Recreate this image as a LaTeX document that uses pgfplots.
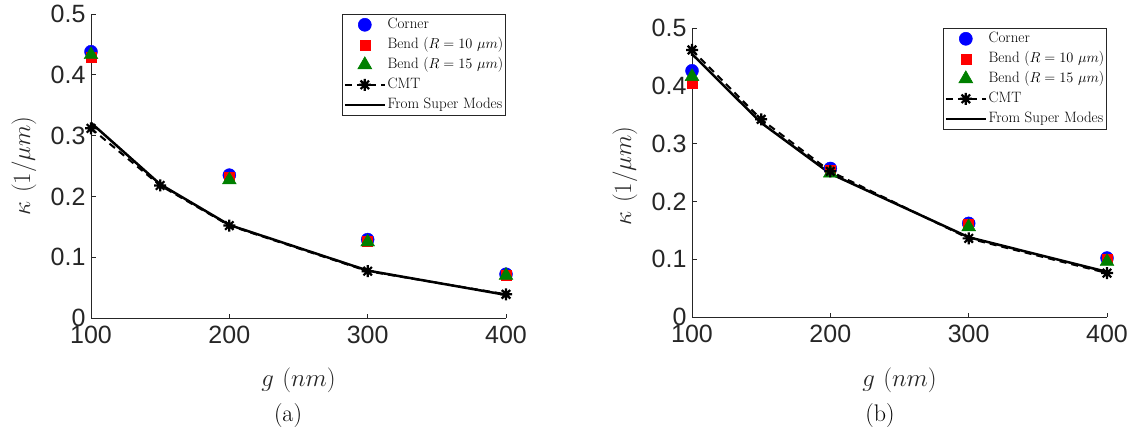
\documentclass[border=0pt]{standalone}
\usepackage{fontspec}
\usepackage{pgfplots}
\pgfplotsset{compat=1.18}
\newfontfamily\ticksans{Liberation Sans}
\definecolor{axgray}{HTML}{262626}
\definecolor{mgreen}{rgb}{0,0.5,0}

% eight-armed asterisk, like the '*' marker of the CMT curve
\pgfdeclareplotmark{ast8}{%
  \pgfpathmoveto{\pgfqpoint{-\pgfplotmarksize}{0pt}}%
  \pgfpathlineto{\pgfqpoint{\pgfplotmarksize}{0pt}}%
  \pgfpathmoveto{\pgfqpoint{0pt}{-\pgfplotmarksize}}%
  \pgfpathlineto{\pgfqpoint{0pt}{\pgfplotmarksize}}%
  \pgfpathmoveto{\pgfqpoint{-0.7071\pgfplotmarksize}{-0.7071\pgfplotmarksize}}%
  \pgfpathlineto{\pgfqpoint{0.7071\pgfplotmarksize}{0.7071\pgfplotmarksize}}%
  \pgfpathmoveto{\pgfqpoint{-0.7071\pgfplotmarksize}{0.7071\pgfplotmarksize}}%
  \pgfpathlineto{\pgfqpoint{0.7071\pgfplotmarksize}{-0.7071\pgfplotmarksize}}%
  \pgfusepathqstroke}

% legend sample: 40pt wide, mark in the middle
\pgfplotsset{
  limg/.style={legend image code/.code={\draw[mark repeat=2,mark phase=2,##1]
      plot coordinates {(0pt,0pt) (20pt,0pt) (40pt,0pt)};}},
  corner/.style={only marks, limg, mark=*, mark size=6.5pt, mark options={draw=blue, fill=blue}},
  bendA/.style={only marks, limg, mark=square*, mark size=5pt, mark options={draw=red, fill=red}},
  bendB/.style={only marks, limg, mark=triangle*, mark size=8pt, mark options={draw=mgreen, fill=mgreen}},
  cmt/.style={limg, black, line width=2pt, dash pattern=on 7pt off 5pt, mark=ast8, mark size=6pt,
      mark options={solid, line width=2.2pt}},
  smode/.style={limg, black, line width=2.5pt, mark=none},
  kstyle/.style={
    scale only axis, width=415pt,
    axis lines=left, axis line style={-, axgray, line width=0.8pt},
    xmin=100, xmax=400, ymin=0, ymax=0.5,
    xtick={100,200,300,400}, ytick={0,0.1,0.2,0.3,0.4,0.5},
    tick align=inside, major tick length=4.5pt,
    tick style={axgray, line width=0.8pt},
    ticklabel style={font=\fontsize{25}{25}\selectfont\ticksans, text=axgray},
    /pgf/number format/assume math mode=true,
    yticklabel style={xshift=-2pt}, xticklabel style={yshift=-5pt},
    clip=false,
    legend cell align=left,
    legend style={at={(1,1)}, anchor=north east, draw=axgray, line width=0.6pt,
      font=\fontsize{15}{18}\selectfont, inner xsep=1pt, inner ysep=0.5pt,
      row sep=0pt, column sep=0pt,
      nodes={inner xsep=1.5pt, inner ysep=2.5pt, text height=11pt, text depth=4pt}},
  }
}

\begin{document}
\begin{tikzpicture}
\useasboundingbox (0pt,0pt) rectangle (1129pt,434pt);

% ---------- (a) ----------
\begin{axis}[kstyle, at={(91pt,116pt)}, anchor=south west, height=304pt]
\addplot[corner] coordinates {(100,0.438) (200,0.235) (300,0.129) (400,0.072)};
\addplot[bendA]  coordinates {(100,0.429) (200,0.232) (300,0.127) (400,0.071)};
\addplot[bendB]  coordinates {(100,0.433) (200,0.227) (300,0.125) (400,0.070)};
\addplot[cmt]    coordinates {(100,0.312) (150,0.218) (200,0.152) (300,0.077) (400,0.039)};
\addplot[smode]  coordinates {(100,0.321) (150,0.220) (200,0.153) (300,0.078) (400,0.038)};
\legend{Corner, Bend ($R=10\ \mu m$), Bend ($R=15\ \mu m$), CMT, From Super Modes}
\end{axis}

% ---------- (b) ----------
\begin{axis}[kstyle, at={(692pt,117pt)}, anchor=south west, height=289pt]
\addplot[corner] coordinates {(100,0.426) (200,0.257) (300,0.162) (400,0.102)};
\addplot[bendA]  coordinates {(100,0.404) (200,0.254) (300,0.160) (400,0.100)};
\addplot[bendB]  coordinates {(100,0.416) (200,0.249) (300,0.156) (400,0.096)};
\addplot[cmt]    coordinates {(100,0.462) (150,0.342) (200,0.252) (300,0.136) (400,0.076)};
\addplot[smode]  coordinates {(100,0.455) (150,0.336) (200,0.248) (300,0.138) (400,0.078)};
\legend{Corner, Bend ($R=10\ \mu m$), Bend ($R=15\ \mu m$), CMT, From Super Modes}
\end{axis}

% axis titles and sub-captions
\node[rotate=90, text=axgray] at (24pt,268pt) {\fontsize{28}{28}\selectfont $\kappa\ (1/\mu m)$};
\node[rotate=90, text=axgray] at (625pt,258pt) {\fontsize{28}{28}\selectfont $\kappa\ (1/\mu m)$};
\node[text=axgray] at (298.5pt,54pt) {\fontsize{28}{28}\selectfont $g\ (nm)$};
\node[text=axgray] at (899.5pt,54pt) {\fontsize{28}{28}\selectfont $g\ (nm)$};
\node at (288pt,18pt) {\fontsize{24}{24}\selectfont (a)};
\node at (880pt,18pt) {\fontsize{24}{24}\selectfont (b)};
\end{tikzpicture}
\end{document}
